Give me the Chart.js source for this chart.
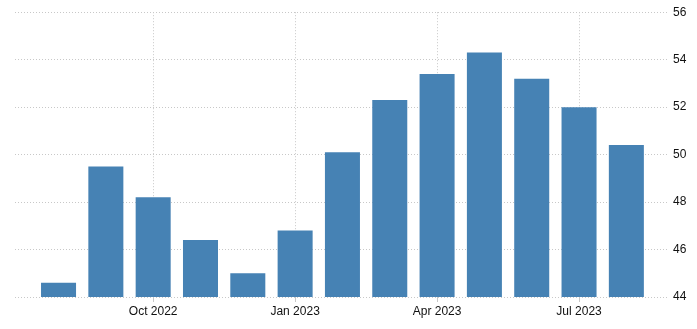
<!DOCTYPE html>
<html>
<head>
<meta charset="utf-8">
<script src="https://cdn.jsdelivr.net/npm/chart.js@4"></script>
<style>
  html, body { margin: 0; padding: 0; background: #fff; }
  #wrap { width: 697px; height: 329px; }
</style>
</head>
<body>
<div id="wrap"><canvas id="chart1" width="697" height="329"></canvas></div>
<script>
const months = ['Aug 2022', 'Sep 2022', 'Oct 2022', 'Nov 2022', 'Dec 2022', 'Jan 2023',
  'Feb 2023', 'Mar 2023', 'Apr 2023', 'May 2023', 'Jun 2023', 'Jul 2023', 'Aug 2023'];
const values = [44.6, 49.5, 48.2, 46.4, 45.0, 46.8, 50.1, 52.3, 53.4, 54.3, 53.2, 52.0, 50.4];
const tickMonths = ['Oct 2022', 'Jan 2023', 'Apr 2023', 'Jul 2023'];
const yTicks = [44, 46, 48, 50, 52, 54, 56];

const points = values.map((v, i) => ({ x: i, y: v }));
const gridColor = '#c8c8c8';

const ctx = document.getElementById('chart1');

const myChart = new Chart(ctx, {
  type: 'bar',
  data: {
    datasets: [{
      data: points,
      backgroundColor: '#4682b4',
      borderWidth: 0,
      barPercentage: 0.74,
      categoryPercentage: 1
    }]
  },
  options: {
    responsive: false,
    animation: false,
    layout: { padding: { left: 15, top: 12, right: 0, bottom: 0 } },
    plugins: { legend: { display: false }, tooltip: { enabled: false } },
    scales: {
      x: {
        type: 'linear',
        offset: false,
        min: -0.92,
        max: 12.88,
        afterBuildTicks: scale => {
          scale.ticks = tickMonths.map(m => ({ value: months.indexOf(m) }));
        },
        afterFit: scale => { scale.height = 32; },
        ticks: {
          autoSkip: false,
          maxRotation: 0,
          padding: 2,
          color: '#111',
          font: { family: 'Liberation Sans', size: 12 },
          callback: value => months[value]
        },
        grid: {
          offset: false,
          color: gridColor,
          tickLength: 5,
          tickColor: gridColor
        },
        border: { display: false, dash: [1, 2] }
      },
      y: {
        position: 'right',
        min: 44,
        max: 56,
        afterBuildTicks: scale => {
          scale.ticks = yTicks.map(v => ({ value: v }));
        },
        afterFit: scale => { scale.width = 29; },
        ticks: {
          padding: 5,
          color: '#111',
          font: { family: 'Liberation Sans', size: 12 }
        },
        grid: {
          color: gridColor,
          drawTicks: false
        },
        border: { display: false, dash: [1, 2] }
      }
    }
  }
});
</script>
</body>
</html>
